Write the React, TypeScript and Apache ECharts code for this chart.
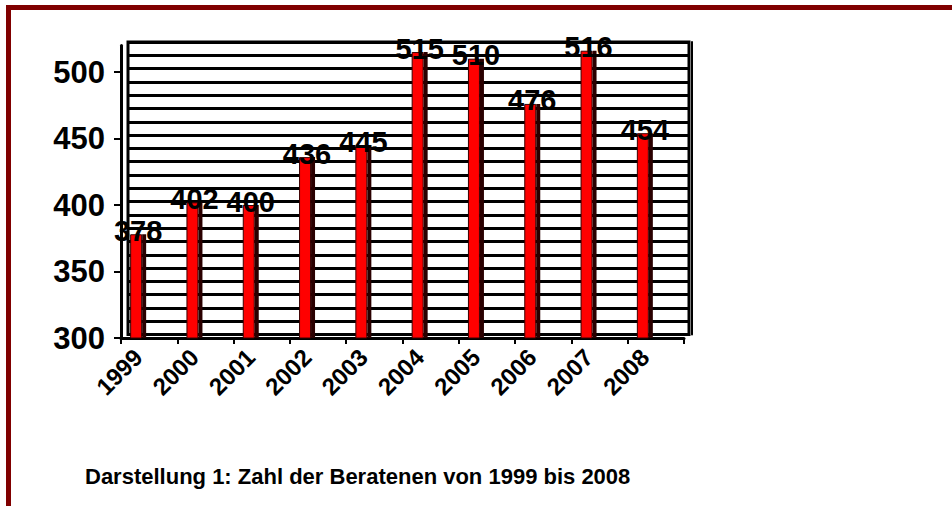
import { useEffect, useRef } from 'react';
import * as echarts from 'echarts';

const years = ['1999', '2000', '2001', '2002', '2003', '2004', '2005', '2006', '2007', '2008'];
const counts = [378, 402, 400, 436, 445, 515, 510, 476, 516, 454];
const yTickValues = [300, 350, 400, 450, 500];
const titleText = 'Darstellung 1: Zahl der Beratenen von 1999 bis 2008';

const FONT = 'Arial, "Liberation Sans", sans-serif';

export default function App() {
  const ref = useRef<HTMLDivElement>(null);
  useEffect(() => {
    document.body.style.margin = '0';
    const chart = echarts.init(ref.current!, null, { renderer: 'svg' });
    const yMin = 300;
    const yMax = 520;
    const hiddenValueAxis = (gridIndex: number) => ({
      type: 'value',
      gridIndex,
      min: yMin,
      max: yMax,
      interval: 10,
      show: false,
      splitLine: { show: false },
    });
    chart.setOption({
      animation: false,
      backgroundColor: '#fff',
      title: {
        text: titleText,
        left: 80,
        top: 460,
        textStyle: { fontSize: 22, fontWeight: 'bold', fontFamily: FONT, color: '#000' },
      },
      graphic: [
        { type: 'rect', shape: { x: 6, y: 5, width: 946, height: 5 }, style: { fill: '#800000' }, z: 100 },
        { type: 'rect', shape: { x: 6, y: 5, width: 5, height: 501 }, style: { fill: '#800000' }, z: 100 },
      ],
      grid: [
        { left: 128, top: 42, width: 561, height: 292.6, show: true, borderColor: '#000', borderWidth: 3, backgroundColor: 'transparent' },
        { left: 121, top: 45.4, width: 563, height: 292.6 },
        { left: 110, top: 45.4, width: 563, height: 292.6 },
      ],
      xAxis: [
        { type: 'category', gridIndex: 0, data: years, show: false },
        {
          type: 'category',
          gridIndex: 1,
          data: years,
          axisLine: { lineStyle: { color: '#000', width: 3 } },
          axisTick: { show: true, length: 6, lineStyle: { color: '#000', width: 2 } },
          axisLabel: { show: false },
        },
        {
          type: 'category',
          gridIndex: 2,
          data: years,
          axisLine: { show: false },
          axisTick: { show: false },
          axisLabel: {
            rotate: 45,
            margin: 15,
            fontSize: 24,
            fontWeight: 'bold',
            fontFamily: FONT,
            color: '#000',
          },
        },
      ],
      yAxis: [
        {
          type: 'value',
          gridIndex: 0,
          min: yMin,
          max: yMax,
          interval: 10,
          axisLine: { show: false },
          axisTick: { show: false },
          axisLabel: { show: false },
          splitLine: { show: true, lineStyle: { color: '#000', width: 3 } },
        },
        {
          type: 'value',
          gridIndex: 1,
          min: yMin,
          max: yMax,
          interval: 10,
          axisLine: { show: true, lineStyle: { color: '#000', width: 3 } },
          axisTick: { show: true, length: 7, lineStyle: { color: '#000', width: 2 }, customValues: yTickValues },
          axisLabel: {
            customValues: yTickValues,
            margin: 16,
            fontSize: 31,
            fontWeight: 'bold',
            fontFamily: FONT,
            color: '#000',
          },
          splitLine: { show: false },
        },
        hiddenValueAxis(2),
        {
          type: 'value',
          gridIndex: 0,
          min: yMin,
          max: yMax,
          interval: 10,
          offset: 3,
          axisLine: { show: true, lineStyle: { color: '#000', width: 2 } },
          axisTick: { show: false },
          axisLabel: { show: false },
          splitLine: { show: false },
        },
      ],
      series: [
        {
          type: 'bar',
          xAxisIndex: 2,
          yAxisIndex: 2,
          data: counts,
          barWidth: 12,
          barGap: '0%',
          itemStyle: { color: '#ff0000', borderColor: '#3a0000', borderWidth: 1 },
          label: {
            show: true,
            position: 'top',
            distance: -11,
            offset: [2, 0],
            fontSize: 29,
            fontWeight: 'bold',
            fontFamily: FONT,
            color: '#000',
          },
          z: 5,
        },
        {
          type: 'bar',
          xAxisIndex: 2,
          yAxisIndex: 2,
          data: counts,
          barWidth: 4,
          barGap: '0%',
          itemStyle: { color: '#2a0000' },
          z: 4,
        },
      ],
    });
    return () => chart.dispose();
  }, []);
  return <div ref={ref} style={{ width: 952, height: 506 }} />;
}
